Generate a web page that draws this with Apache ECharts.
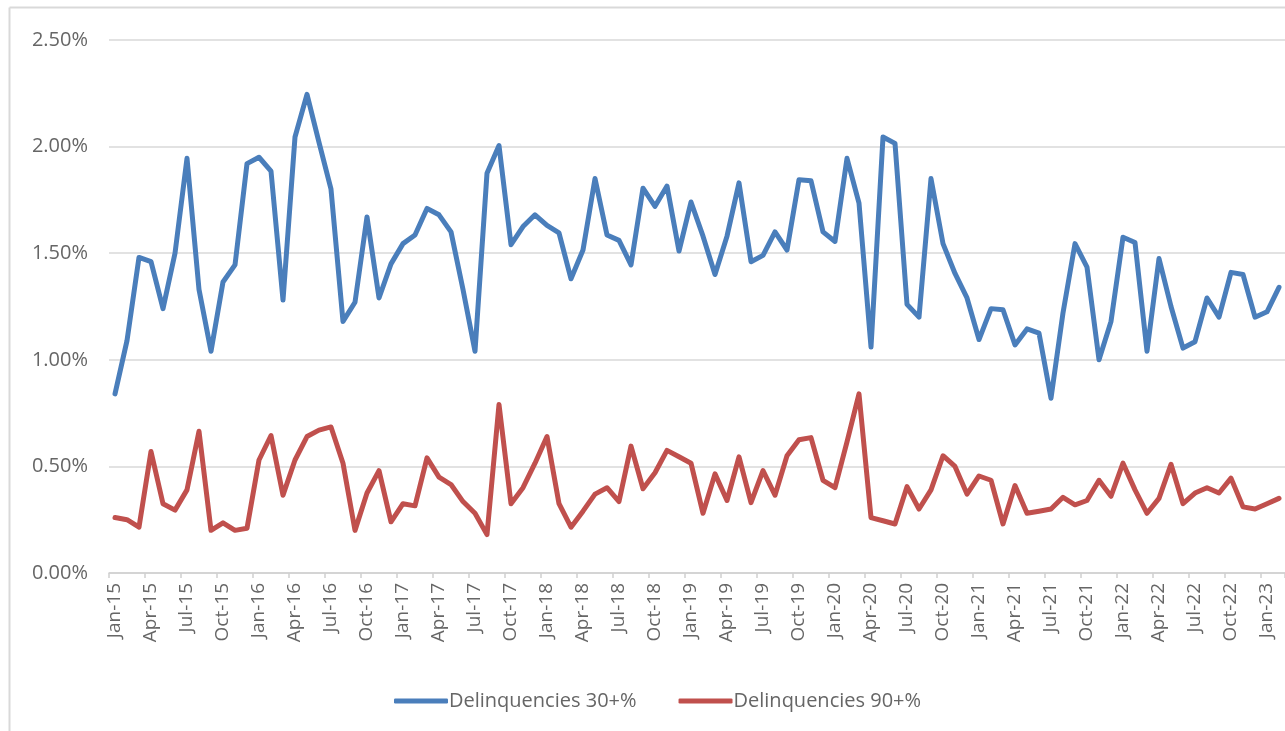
<!DOCTYPE html>
<html><head><meta charset="utf-8">
<script src="https://cdn.jsdelivr.net/npm/echarts@6/dist/echarts.min.js"></script>
<style>html,body{margin:0;padding:0;background:#fff}#c{width:1285px;height:731px}</style>
</head><body><div id="c"></div>
<script>
const months = ['Jan','Feb','Mar','Apr','May','Jun','Jul','Aug','Sep','Oct','Nov','Dec'];
const categories = [];
for (let y = 15; y <= 23; y++) for (let m = 0; m < 12; m++) { if (y === 23 && m > 1) break; categories.push(months[m] + '-' + y); }

const delinq30 = [
  0.84,1.09,1.48,1.46,1.24,1.50,1.945,1.33,1.04,1.365,1.445,1.92,
  1.95,1.885,1.28,2.045,2.245,2.02,1.80,1.18,1.27,1.67,1.29,1.45,
  1.545,1.585,1.71,1.68,1.60,1.33,1.04,1.875,2.005,1.54,1.625,1.68,
  1.63,1.595,1.38,1.515,1.85,1.585,1.56,1.445,1.805,1.72,1.815,1.51,
  1.74,1.58,1.40,1.58,1.83,1.46,1.49,1.60,1.515,1.845,1.84,1.60,
  1.555,1.945,1.735,1.06,2.045,2.015,1.26,1.20,1.85,1.545,1.405,1.29,
  1.095,1.24,1.235,1.07,1.145,1.125,0.82,1.22,1.545,1.435,1.00,1.18,
  1.575,1.55,1.04,1.475,1.25,1.055,1.085,1.29,1.20,1.41,1.40,1.20,
  1.225,1.34
];
const delinq90 = [
  0.26,0.25,0.215,0.57,0.325,0.295,0.39,0.665,0.20,0.235,0.20,0.21,
  0.53,0.645,0.365,0.53,0.64,0.67,0.685,0.515,0.20,0.375,0.48,0.24,
  0.325,0.315,0.54,0.45,0.415,0.335,0.28,0.18,0.79,0.325,0.40,0.515,
  0.64,0.325,0.215,0.29,0.37,0.40,0.335,0.595,0.395,0.47,0.575,0.545,
  0.515,0.28,0.465,0.34,0.545,0.33,0.48,0.365,0.55,0.625,0.635,0.435,
  0.40,0.615,0.84,0.26,0.245,0.23,0.405,0.30,0.39,0.55,0.50,0.37,
  0.455,0.435,0.23,0.41,0.28,0.29,0.30,0.355,0.32,0.34,0.435,0.36,
  0.515,0.39,0.28,0.35,0.51,0.325,0.375,0.40,0.375,0.445,0.31,0.30,
  0.325,0.35
];
const seriesNames = ['Delinquencies 30+%', 'Delinquencies 90+%'];

const chart = echarts.init(document.getElementById('c'), null, {renderer: 'canvas'});
const font = '"Open Sans", "Noto Sans", sans-serif';
const txt = '#666666';
chart.setOption({
  backgroundColor: '#fff',
  animation: false,
  textStyle: {fontFamily: font},
  graphic: [
    {type: 'line', shape: {x1: 9.5, y1: 7.5, x2: 1300, y2: 7.5}, style: {stroke: '#d9d9d9', lineWidth: 2}},
    {type: 'line', shape: {x1: 9.5, y1: 7.5, x2: 9.5, y2: 740}, style: {stroke: '#d9d9d9', lineWidth: 2}}
  ],
  grid: {left: 109, right: -6, top: 40, bottom: 158, containLabel: false},
  legend: {
    top: 686, left: 389,
    icon: 'roundRect', itemWidth: 54, itemHeight: 5, itemGap: 42,
    textStyle: {color: txt, fontSize: 20, fontFamily: font, padding: [0, 0, 0, -4]},
    data: seriesNames
  },
  xAxis: {
    type: 'category', data: categories, boundaryGap: true,
    axisLine: {lineStyle: {color: '#d0d0d0', width: 1.5}},
    axisTick: {show: true, interval: 2, length: 5, lineStyle: {color: '#d0d0d0', width: 1.5}},
    axisLabel: {interval: 2, rotate: 90, color: txt, fontSize: 19, margin: 10, fontFamily: font},
    splitLine: {show: false}
  },
  yAxis: {
    type: 'value', min: 0, max: 2.5, interval: 0.5,
    axisLine: {show: false}, axisTick: {show: false},
    axisLabel: {formatter: v => v.toFixed(2) + '%', color: txt, fontSize: 20, margin: 21, fontFamily: font},
    splitLine: {lineStyle: {color: '#d9d9d9', width: 1.5}}
  },
  series: [
    {name: seriesNames[0], type: 'line', data: delinq30, symbol: 'none', lineStyle: {width: 5, color: '#4a7ebb', cap: 'round', join: 'round'}, itemStyle: {color: '#4a7ebb'}},
    {name: seriesNames[1], type: 'line', data: delinq90, symbol: 'none', lineStyle: {width: 5, color: '#c0504d', cap: 'round', join: 'round'}, itemStyle: {color: '#c0504d'}}
  ]
});
</script></body></html>
